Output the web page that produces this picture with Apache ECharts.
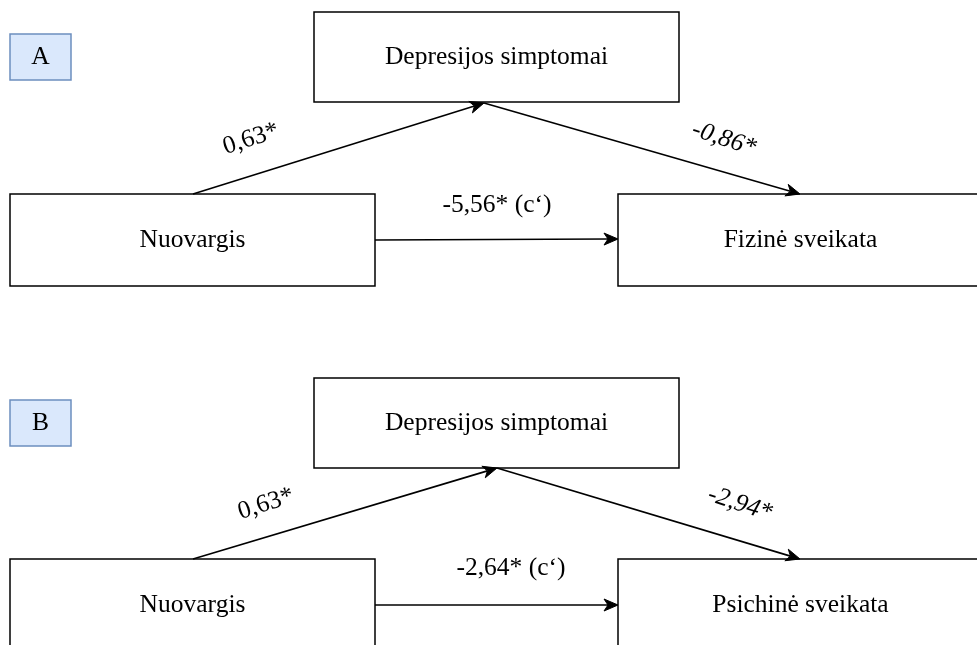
<!DOCTYPE html>
<html>
<head>
<meta charset="utf-8">
<script src="https://cdn.jsdelivr.net/npm/echarts@6/dist/echarts.min.js"></script>
<style>
  html, body { margin: 0; padding: 0; background: #fff; }
  #chart { width: 977px; height: 645px; }
</style>
</head>
<body>
<div id="chart"></div>
<script>
// panel tags and the variable names in each mediation model
const panelTags = ['A', 'B'];
const mediatorNames = ['Depresijos simptomai', 'Depresijos simptomai'];
const predictorNames = ['Nuovargis', 'Nuovargis'];
const outcomeNames = ['Fizinė sveikata', 'Psichinė sveikata'];
// path coefficients: a (X -> M), b (M -> Y), c' (X -> Y)
const pathA = ['0,63*', '0,63*'];
const pathB = ['-0,86*', '-2,94*'];
const pathC = ['-5,56* (c‘)', '-2,64* (c‘)'];

// layout of each panel, in page units (axes span 0..977 x 0..645)
const layout = [
  {
    tag: [10, 34, 71, 80], med: [314, 12, 679, 102], pred: [10, 194, 375, 286], out: [618, 194, 983, 286],
    aFrom: [193, 194], apex: [484, 103], bTo: [800, 194], cFrom: [375, 240], cTo: [618, 239],
    labA: [251, 139, 18], labB: [724, 139, -18], labC: [497, 205]
  },
  {
    tag: [10, 400, 71, 446], med: [314, 378, 679, 468], pred: [10, 559, 375, 651], out: [618, 559, 983, 651],
    aFrom: [193, 559], apex: [497, 468], bTo: [800, 559], cFrom: [375, 605], cTo: [618, 605],
    labA: [266, 504, 18], labB: [740, 504, -18], labC: [511, 568]
  }
];

const FONT = 'Liberation Serif';

// boxes: tag + three variables per panel
const boxes = [];
const arrows = [];
const coefs = [];
panelTags.forEach(function (tag, i) {
  const L = layout[i];
  boxes.push({ rect: L.tag, text: tag, tag: true });
  boxes.push({ rect: L.med, text: mediatorNames[i] });
  boxes.push({ rect: L.pred, text: predictorNames[i] });
  boxes.push({ rect: L.out, text: outcomeNames[i] });
  arrows.push(L.aFrom.concat(L.apex));
  arrows.push(L.apex.concat(L.bTo));
  arrows.push(L.cFrom.concat(L.cTo));
  coefs.push({ pos: L.labA, text: pathA[i], italic: false });
  coefs.push({ pos: L.labB, text: pathB[i], italic: true });
  coefs.push({ pos: L.labC, text: pathC[i], italic: false });
});

const myChart = echarts.init(document.getElementById('chart'));
const option = {
  animation: false,
  backgroundColor: '#fff',
  grid: { left: 0, right: 0, top: 0, bottom: 0 },
  xAxis: { type: 'value', min: 0, max: 977, show: false },
  yAxis: { type: 'value', min: 0, max: 645, inverse: true, show: false },
  series: [
    {
      name: 'boxes',
      type: 'custom',
      coordinateSystem: 'cartesian2d',
      clip: false,
      data: boxes.map(function (b) { return b.rect; }),
      renderItem: function (params, api) {
        const b = boxes[params.dataIndex];
        const p0 = api.coord([api.value(0), api.value(1)]);
        const p1 = api.coord([api.value(2), api.value(3)]);
        return {
          type: 'group',
          children: [
            {
              type: 'rect',
              shape: { x: p0[0], y: p0[1], width: p1[0] - p0[0], height: p1[1] - p0[1] },
              style: {
                fill: b.tag ? '#dae8fc' : '#fff',
                stroke: b.tag ? '#6c8ebf' : '#000',
                lineWidth: 1.5
              }
            },
            {
              type: 'text',
              x: (p0[0] + p1[0]) / 2,
              y: (p0[1] + p1[1]) / 2,
              style: {
                text: b.text,
                fill: '#000',
                font: '25.5px "' + FONT + '"',
                align: 'center',
                verticalAlign: 'middle'
              }
            }
          ]
        };
      }
    },
    {
      name: 'paths',
      type: 'custom',
      coordinateSystem: 'cartesian2d',
      clip: false,
      data: arrows,
      renderItem: function (params, api) {
        const p0 = api.coord([api.value(0), api.value(1)]);
        const p1 = api.coord([api.value(2), api.value(3)]);
        const ang = Math.atan2(p1[1] - p0[1], p1[0] - p0[0]);
        const cos = Math.cos(ang), sin = Math.sin(ang);
        const len = 14, half = 6, notch = 4;
        // arrowhead: tip at the end point, concave back
        const tip = p1;
        const back = [p1[0] - len * cos, p1[1] - len * sin];
        const left = [back[0] - half * sin, back[1] + half * cos];
        const right = [back[0] + half * sin, back[1] - half * cos];
        const inner = [p1[0] - (len - notch) * cos, p1[1] - (len - notch) * sin];
        return {
          type: 'group',
          children: [
            {
              type: 'line',
              shape: { x1: p0[0], y1: p0[1], x2: inner[0], y2: inner[1] },
              style: { stroke: '#000', lineWidth: 1.6 }
            },
            {
              type: 'polygon',
              shape: { points: [tip, left, inner, right] },
              style: { fill: '#000', stroke: '#000', lineWidth: 1 }
            }
          ]
        };
      }
    },
    {
      name: 'coefficients',
      type: 'custom',
      coordinateSystem: 'cartesian2d',
      clip: false,
      data: coefs.map(function (c) { return [c.pos[0], c.pos[1]]; }),
      renderItem: function (params, api) {
        const c = coefs[params.dataIndex];
        const p = api.coord([api.value(0), api.value(1)]);
        return {
          type: 'text',
          x: p[0],
          y: p[1],
          rotation: (c.pos[2] || 0) * Math.PI / 180,
          style: {
            text: c.text,
            fill: '#000',
            font: (c.italic ? 'italic ' : '') + '25.5px "' + FONT + '"',
            align: 'center',
            verticalAlign: 'middle'
          }
        };
      }
    }
  ]
};
myChart.setOption(option);
</script>
</body>
</html>
